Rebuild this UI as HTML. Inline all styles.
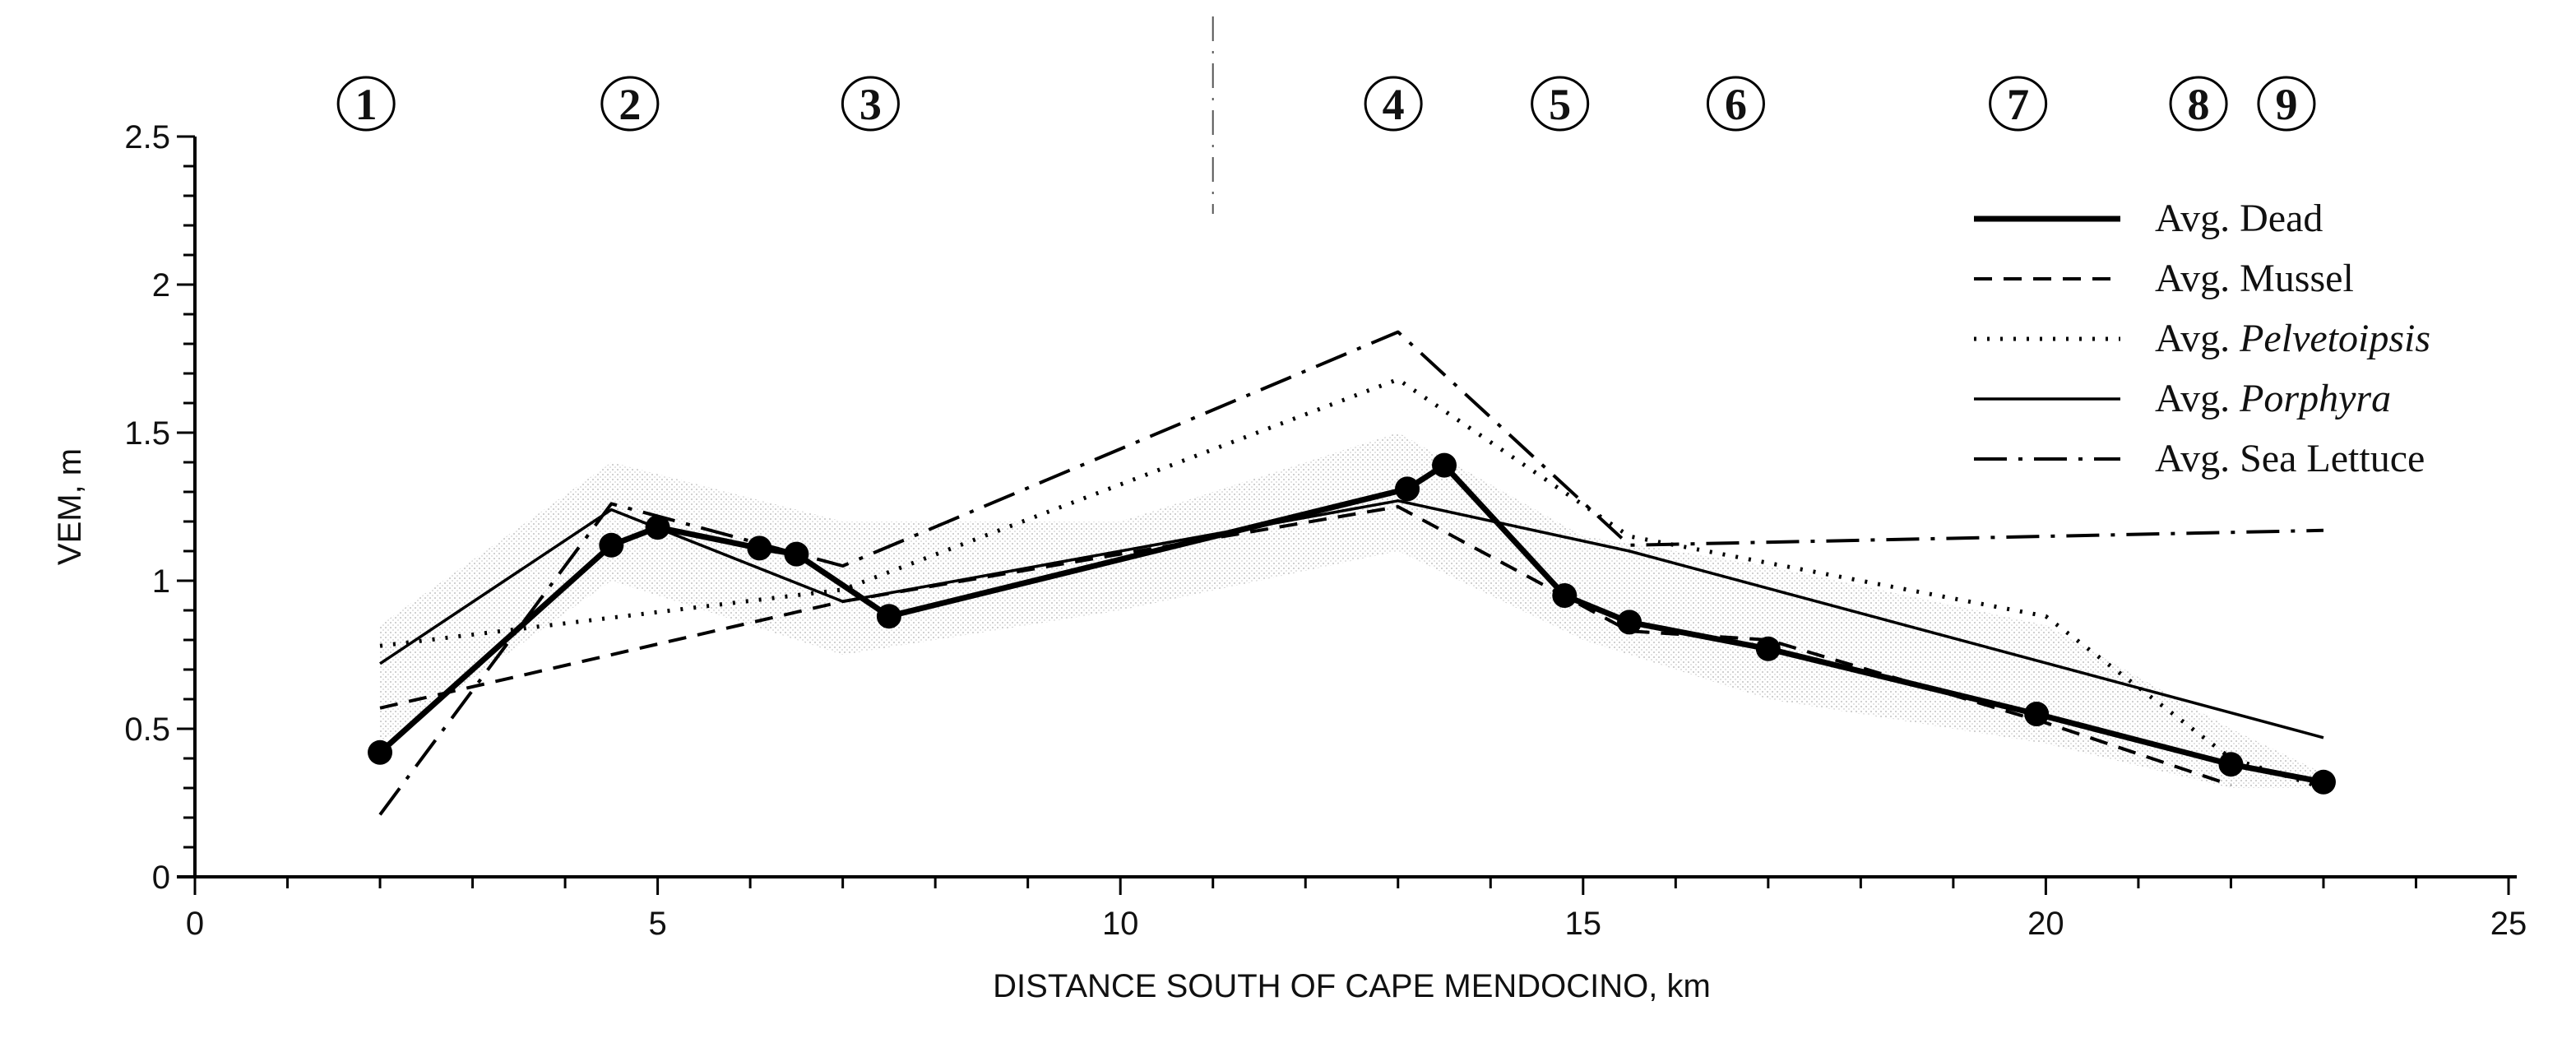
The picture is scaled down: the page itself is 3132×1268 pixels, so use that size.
<!DOCTYPE html>
<html><head><meta charset="utf-8"><style>
html,body{margin:0;padding:0;background:#fff;}
svg{display:block;}
.tick{font-family:"Liberation Sans",sans-serif;font-size:40px;fill:#111;}
.leg{font-family:"Liberation Serif",serif;font-size:48px;fill:#111;}
.circ{font-family:"Liberation Serif",serif;font-size:54px;font-weight:bold;fill:#111;}
</style></head><body>
<svg id="chart" width="3132" height="1268" viewBox="0 0 3132 1268" xmlns="http://www.w3.org/2000/svg">
<defs>
<pattern id="stip" width="6" height="6" patternUnits="userSpaceOnUse"><rect width="6" height="6" fill="#fff"/><rect width="2" height="2" fill="#aaa"/><rect x="3" y="3" width="2" height="2" fill="#ccc"/></pattern>
</defs>
<g id="plot"></g>
</svg>
<script>
const xTicks=[0,5,10,15,20,25];
const yTicks=[0,0.5,1,1.5,2,2.5];
const yTickLabels=["0","0.5","1","1.5","2","2.5"];
const siteLabels=["1","2","3","4","5","6","7","8","9"];
const siteKm=[1.85,4.7,7.3,12.95,14.75,16.65,19.7,21.65,22.6];
const deadX=[2,4.5,5,6.1,6.5,7.5,13.1,13.5,14.8,15.5,17,19.9,22,23];
const deadY=[0.42,1.12,1.18,1.11,1.09,0.88,1.31,1.39,0.95,0.86,0.77,0.55,0.38,0.32];
const musselX=[2,7,13,15.5,17,20,22];
const musselY=[0.57,0.93,1.25,0.83,0.8,0.52,0.31];
const pelvX=[2,7,13,15.5,20,22,23];
const pelvY=[0.78,0.97,1.68,1.15,0.88,0.4,0.3];
const porphX=[2,4.5,7,13,15.5,23];
const porphY=[0.72,1.24,0.93,1.27,1.1,0.47];
const lettX=[2,4.5,7,13,15.5,23];
const lettY=[0.21,1.26,1.05,1.84,1.12,1.17];
const bandX=[2,4.5,7,10,13,15,17,20,22,23];
const bandHi=[0.85,1.4,1.2,1.2,1.5,1.15,1.05,0.85,0.5,0.35];
const bandLo=[0.45,1.0,0.75,0.9,1.1,0.8,0.6,0.45,0.3,0.3];

const X0=237,X1=3050,Y0=1066,Y1=166;
const sx=v=>X0+(v-0)/(25-0)*(X1-X0);
const sy=v=>Y0-(v-0)/(2.5-0)*(Y0-Y1);
const NS="http://www.w3.org/2000/svg";
const g=document.getElementById('plot');
function mk(t,a){const e=document.createElementNS(NS,t);for(const k in a)e.setAttribute(k,a[k]);g.appendChild(e);return e;}

let pts=bandX.map((x,i)=>sx(x)+','+sy(bandHi[i])).concat(bandX.slice().reverse().map((x,i)=>sx(x)+','+sy(bandLo[bandX.length-1-i])));
let band=mk('polygon',{points:pts.join(' '),fill:'url(#stip)',opacity:0.55});



let ya=mk('line',{x1:X0,y1:Y1,x2:X0,y2:Y0,stroke:'#000','stroke-width':4});


let xa=mk('line',{x1:X0-22,y1:Y0,x2:X1+10,y2:Y0,stroke:'#000','stroke-width':4});


for(let k=0;k<=25;k++){mk('line',{x1:sx(k),y1:Y0,x2:sx(k),y2:Y0+(k%5===0?22:14),stroke:'#000','stroke-width':3});}
for(let k=0;k<=25;k++){mk('line',{x1:X0-(k%5===0?22:14),y1:sy(k/10),x2:X0,y2:sy(k/10),stroke:'#000','stroke-width':3});}
xTicks.forEach(v=>{let t=mk('text',{x:sx(v),y:Y0+70,'text-anchor':'middle',class:'tick'});t.textContent=v;

});
yTicks.forEach((v,i)=>{let t=mk('text',{x:X0-30,y:sy(v)+14,'text-anchor':'end',class:'tick'});t.textContent=yTickLabels[i];

});
let xt=mk('text',{x:(X0+X1)/2,y:1212,'text-anchor':'middle',class:'tick'});xt.textContent='DISTANCE SOUTH OF CAPE MENDOCINO, km';


let yt=mk('text',{x:0,y:0,'text-anchor':'middle',class:'tick',transform:'translate(98,'+sy(1.25)+') rotate(-90)'});yt.textContent='VEM, m';


let rl=mk('line',{x1:sx(11),y1:20,x2:sx(11),y2:260,stroke:'#555','stroke-width':2,'stroke-dasharray':'30 12 3 12'});



siteLabels.forEach((s,i)=>{let c=mk('ellipse',{cx:sx(siteKm[i]),cy:126,rx:34,ry:32,fill:'none',stroke:'#000','stroke-width':3});


let t=mk('text',{x:sx(siteKm[i]),y:145,'text-anchor':'middle',class:'circ'});t.textContent=s;

});

function series(xs,ys,w,dash,name){let p=mk('polyline',{points:xs.map((x,i)=>sx(x)+','+sy(ys[i])).join(' '),fill:'none',stroke:'#000','stroke-width':w,'stroke-dasharray':dash,'stroke-linejoin':'round'});

}
series(lettX,lettY,4,'40 14 5 14','line-sea-lettuce');
series(pelvX,pelvY,5,'3 13','line-pelvetoipsis');
series(porphX,porphY,3.5,'none','line-porphyra');
series(musselX,musselY,4,'22 14','line-mussel');
series(deadX,deadY,7,'none','line-dead');
deadX.forEach((x,i)=>{let c=mk('circle',{cx:sx(x),cy:sy(deadY[i]),r:15,fill:'#000'});

});

const legNames=[['Avg. Dead',''],['Avg. Mussel',''],['Avg. ','Pelvetoipsis'],['Avg. ','Porphyra'],['Avg. Sea Lettuce','']];
const legStyle=[[7,'none'],[4,'22 14'],[5,'3 13'],[3.5,'none'],[4,'40 14 5 14']];
legNames.forEach((n,i)=>{const y=266+i*73;
let l=mk('line',{x1:2400,y1:y,x2:2578,y2:y,stroke:'#000','stroke-width':legStyle[i][0],'stroke-dasharray':legStyle[i][1]});


let t=mk('text',{x:2620,y:y+15,class:'leg'});


t.appendChild(document.createTextNode(n[0]));
if(n[1]){let s=document.createElementNS(NS,'tspan');s.setAttribute('font-style','italic');s.textContent=n[1];t.appendChild(s);}
});
</script>
</body></html>
